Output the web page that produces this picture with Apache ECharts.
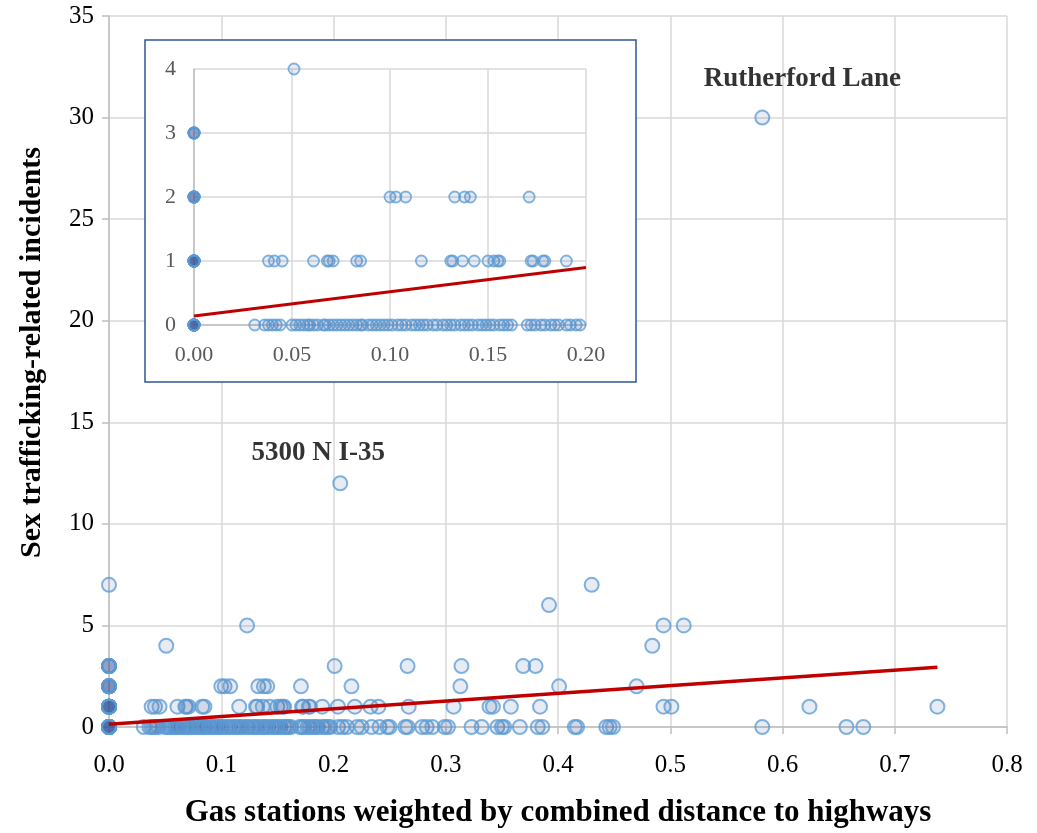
<!DOCTYPE html>
<html>
<head>
<meta charset="utf-8">
<script src="https://cdn.jsdelivr.net/npm/echarts@6/dist/echarts.min.js"></script>
<style>
html,body{margin:0;padding:0;background:#fff;overflow:hidden;}
#chart{width:1037px;height:833px;}
</style>
</head>
<body>
<div id="chart"></div>
<script>
// ---- data ----
const xTicks = [0, 0.1, 0.2, 0.3, 0.4, 0.5, 0.6, 0.7, 0.8];
const yTicks = [0, 5, 10, 15, 20, 25, 30, 35];
const insetXTicks = [0, 0.05, 0.10, 0.15, 0.20];
const insetYTicks = [0, 1, 2, 3, 4];

// x values of stations by number of incidents (stations at x = 0 overlap heavily)
const xAtZero = [0, 0, 0, 0, 0, 0, 0, 0, 0, 0, 0, 0, 0, 0,
  0.031, 0.036, 0.038, 0.040, 0.042, 0.044, 0.050, 0.052, 0.054, 0.056, 0.058, 0.059,
  0.061, 0.063, 0.066, 0.067, 0.069, 0.071, 0.073, 0.075, 0.077, 0.079, 0.081, 0.083,
  0.085, 0.086, 0.089, 0.091, 0.093, 0.095, 0.097, 0.099, 0.101, 0.104, 0.106, 0.108,
  0.111, 0.113, 0.115, 0.117, 0.119, 0.122, 0.124, 0.127, 0.129, 0.131, 0.133, 0.136,
  0.138, 0.140, 0.142, 0.145, 0.147, 0.149, 0.151, 0.153, 0.156, 0.158, 0.160, 0.162,
  0.170, 0.172, 0.174, 0.177, 0.179, 0.182, 0.184, 0.186, 0.190, 0.192, 0.195, 0.197,
  0.204, 0.208, 0.212, 0.221, 0.225, 0.234, 0.241, 0.248, 0.250, 0.264, 0.266, 0.279,
  0.283, 0.288, 0.299, 0.302, 0.323, 0.332, 0.346, 0.350, 0.352, 0.366, 0.382, 0.386,
  0.415, 0.417, 0.443, 0.446, 0.449, 0.582, 0.657, 0.672];
const xAtOne = [0, 0, 0, 0, 0, 0, 0, 0, 0, 0, 0, 0, 0, 0,
  0.038, 0.041, 0.045, 0.061, 0.068, 0.069, 0.071, 0.083, 0.085, 0.116, 0.131, 0.132,
  0.137, 0.143, 0.150, 0.153, 0.155, 0.156, 0.172, 0.173, 0.178, 0.179, 0.190,
  0.204, 0.219, 0.233, 0.240, 0.267, 0.307, 0.339, 0.342, 0.358, 0.384, 0.494, 0.501,
  0.624, 0.738];
const xAtTwo = [0, 0, 0, 0, 0, 0, 0, 0, 0.100, 0.103, 0.108, 0.133, 0.138, 0.141, 0.171, 0.216, 0.313, 0.401, 0.470];
const xAtThree = [0, 0, 0, 0, 0, 0, 0.201, 0.266, 0.314, 0.369, 0.380];
const xAtFour = [0.051, 0.484];
const xAtFive = [0.123, 0.494, 0.512];
const xAtSix = [0.392];
const xAtSeven = [0, 0.430];
const outliers = [
  {name: '5300 N I-35', x: 0.206, y: 12},
  {name: 'Rutherford Lane', x: 0.582, y: 30}
];
// linear trend: intercept and slope, drawn over x range
const trendIntercept = 0.14;
const trendSlope = 3.8;
const trendXMain = [0, 0.738];
const trendXInset = [0, 0.2];

// ---- build series data ----
const rows = [[xAtZero,0],[xAtOne,1],[xAtTwo,2],[xAtThree,3],[xAtFour,4],[xAtFive,5],[xAtSix,6],[xAtSeven,7]];
const points = [];
rows.forEach(([xs, y]) => xs.forEach(x => points.push([x, y])));
outliers.forEach(o => points.push([o.x, o.y]));
const insetPoints = points.filter(p => p[0] <= 0.2 && p[1] <= 4);
const trendMain = trendXMain.map(x => [x, trendIntercept + trendSlope * x]);
const trendInset = trendXInset.map(x => [x, trendIntercept + trendSlope * x]);

const serif = '"Liberation Serif", "DejaVu Serif", serif';
const pointStyle = {color: 'rgba(47,85,151,0.15)', borderColor: 'rgba(91,155,213,0.95)', borderWidth: 2};

const chart = echarts.init(document.getElementById('chart'), null, {renderer: 'canvas'});
chart.setOption({
  animation: false,
  backgroundColor: '#fff',
  grid: [
    {left: 109, right: 30, top: 16, bottom: 103, containLabel: false},
    {left: 194, right: 451, top: 69, bottom: 508, containLabel: false}
  ],
  xAxis: [
    {
      gridIndex: 0, type: 'value', min: 0, max: 0.8, interval: 0.1, z: 0,
      name: 'Gas stations weighted by combined distance to highways',
      nameLocation: 'middle', nameGap: 70,
      nameTextStyle: {fontFamily: serif, fontSize: 31, fontWeight: 'bold', color: '#000'},
      axisLine: {show: true, onZero: false, lineStyle: {color: '#bfbfbf', width: 1.5}},
      axisTick: {show: true, length: 7, lineStyle: {color: '#bfbfbf', width: 1.5}},
      splitLine: {show: true, lineStyle: {color: '#d9d9d9', width: 1.5}},
      axisLabel: {fontFamily: serif, fontSize: 25, color: '#000', margin: 26,
        formatter: v => xTicks.includes(Math.round(v*10)/10) ? v.toFixed(1) : ''}
    },
    {
      gridIndex: 1, type: 'value', min: 0, max: 0.2, interval: 0.05, z: 3,
      axisLine: {show: true, onZero: false, lineStyle: {color: '#bfbfbf', width: 1.5}},
      axisTick: {show: false},
      splitLine: {show: true, lineStyle: {color: '#d9d9d9', width: 1.5}},
      axisLabel: {fontFamily: serif, fontSize: 22, color: '#595959', margin: 19,
        formatter: v => insetXTicks.some(t => Math.abs(t - v) < 1e-9) ? v.toFixed(2) : ''}
    }
  ],
  yAxis: [
    {
      gridIndex: 0, type: 'value', min: 0, max: 35, interval: 5, z: 0,
      name: 'Sex trafficking-related incidents',
      nameLocation: 'middle', nameGap: 62,
      nameTextStyle: {fontFamily: serif, fontSize: 30, fontWeight: 'bold', color: '#000',
        padding: [0, 0, 0, 38]},
      axisLine: {show: true, onZero: false, lineStyle: {color: '#bfbfbf', width: 1.5}},
      axisTick: {show: true, length: 7, lineStyle: {color: '#bfbfbf', width: 1.5}},
      splitLine: {show: true, lineStyle: {color: '#d9d9d9', width: 1.5}},
      axisLabel: {fontFamily: serif, fontSize: 25, color: '#000', margin: 15,
        formatter: v => yTicks.includes(v) ? String(v) : ''}
    },
    {
      gridIndex: 1, type: 'value', min: 0, max: 4, interval: 1, z: 3,
      axisLine: {show: true, onZero: false, lineStyle: {color: '#bfbfbf', width: 1.5}},
      axisTick: {show: false},
      splitLine: {show: true, lineStyle: {color: '#d9d9d9', width: 1.5}},
      axisLabel: {fontFamily: serif, fontSize: 22, color: '#595959', margin: 18,
        formatter: v => insetYTicks.includes(v) ? String(v) : ''}
    }
  ],
  graphic: [
    {type: 'rect', z: 1, zlevel: 0, silent: true,
     shape: {x: 145, y: 40, width: 491, height: 342},
     style: {fill: '#fff', stroke: '#2f5597', lineWidth: 1.5}}
  ],
  series: [
    {
      type: 'scatter', xAxisIndex: 0, yAxisIndex: 0, z: 2,
      symbol: 'circle', symbolSize: 14, data: points, itemStyle: pointStyle
    },
    {
      type: 'line', xAxisIndex: 0, yAxisIndex: 0, z: 3,
      data: trendMain, showSymbol: false, symbol: 'none',
      lineStyle: {color: '#c00000', width: 3.5}
    },
    {
      type: 'scatter', xAxisIndex: 0, yAxisIndex: 0, z: 4,
      symbolSize: 0, silent: true,
      data: outliers.map(o => ({name: o.name, value: [o.x, o.y],
        label: {offset: o.y > 20 ? [40, -39] : [-22, -30]}})),
      label: {show: true, position: 'inside', formatter: p => p.name,
        fontFamily: serif, fontSize: 27, fontWeight: 'bold', color: '#000'}
    },
    {
      type: 'scatter', xAxisIndex: 1, yAxisIndex: 1, z: 5,
      symbol: 'circle', symbolSize: 11, data: insetPoints,
      itemStyle: {color: 'rgba(47,85,151,0.15)', borderColor: 'rgba(91,155,213,0.95)', borderWidth: 1.8}
    },
    {
      type: 'line', xAxisIndex: 1, yAxisIndex: 1, z: 6,
      data: trendInset, showSymbol: false, symbol: 'none',
      lineStyle: {color: '#c00000', width: 3}
    }
  ]
});
</script>
</body>
</html>
